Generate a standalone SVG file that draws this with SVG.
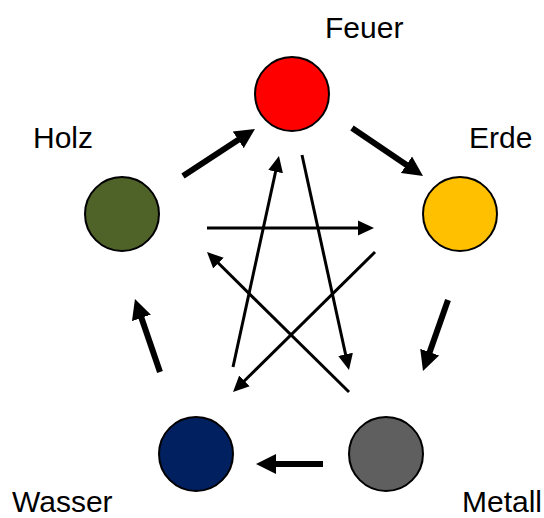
<svg xmlns="http://www.w3.org/2000/svg" width="544" height="518" viewBox="0 0 544 518">
  <defs>
    <style>
      .node circle { stroke: #000; stroke-width: 2; }
      .lbl { font-family: "Liberation Sans", Arial, sans-serif; font-size: 30px; fill: #000; }
      .thick { stroke: #000; stroke-width: 6; fill: none; marker-end: url(#headBig); }
      .thin { stroke: #000; stroke-width: 3; fill: none; marker-end: url(#headSmall); }
    </style>
    <marker id="headBig" markerUnits="userSpaceOnUse" viewBox="0 -11 21 22" markerWidth="21" markerHeight="22" refX="2" refY="0" orient="auto">
      <path d="M0,-10 L20,0 L0,10 z" fill="#000"/>
    </marker>
    <marker id="headSmall" markerUnits="userSpaceOnUse" viewBox="0 -9 17 18" markerWidth="17" markerHeight="18" refX="2" refY="0" orient="auto">
      <path d="M0,-7.5 L16,0 L0,7.5 z" fill="#000"/>
    </marker>
  </defs>
  <rect width="544" height="518" fill="#fff"/>

  <g id="connectors">
    <line class="thick" x1="183" y1="176" x2="239.9" y2="138.8"/>
    <line class="thick" x1="352" y1="128" x2="408.1" y2="165.9"/>
    <line class="thick" x1="448" y1="300" x2="429" y2="354"/>
    <line class="thick" x1="323" y1="464" x2="274" y2="464"/>
    <line class="thick" x1="160" y1="372" x2="140.8" y2="316"/>
    <line class="thin" x1="207" y1="228" x2="360" y2="228"/>
    <line class="thin" x1="375" y1="252" x2="243" y2="382.2"/>
    <line class="thin" x1="349" y1="392" x2="217" y2="261.8"/>
    <line class="thin" x1="233" y1="367" x2="276" y2="169.7"/>
    <line class="thin" x1="302" y1="155" x2="346" y2="356.3"/>
  </g>

  <g id="feuer" class="node">
    <circle cx="292" cy="94" r="37" fill="#FF0000"/>
    <text class="lbl" x="325" y="38">Feuer</text>
  </g>
  <g id="erde" class="node">
    <circle cx="460" cy="214" r="37" fill="#FFC000"/>
    <text class="lbl" x="469" y="148">Erde</text>
  </g>
  <g id="holz" class="node">
    <circle cx="122" cy="214" r="37" fill="#4F6228"/>
    <text class="lbl" x="33" y="148">Holz</text>
  </g>
  <g id="wasser" class="node">
    <circle cx="196" cy="454" r="37" fill="#002060"/>
    <text class="lbl" x="12" y="512">Wasser</text>
  </g>
  <g id="metall" class="node">
    <circle cx="386" cy="454" r="37" fill="#5F5F5F"/>
    <text class="lbl" x="462" y="512">Metall</text>
  </g>
</svg>
